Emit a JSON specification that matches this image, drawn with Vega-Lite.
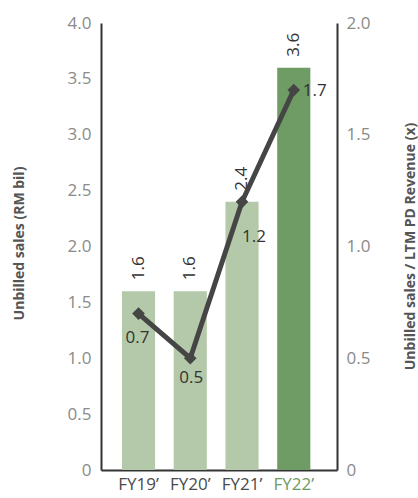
{
  "$schema": "https://vega.github.io/schema/vega-lite/v6.json",
  "width": 236,
  "height": 447,
  "autosize": {"type": "none"},
  "padding": {"left": 101, "top": 23, "right": 81, "bottom": 28},
  "background": "white",
  "config": {
    "view": {"stroke": null},
    "font": "Open Sans",
    "axis": {"domainColor": "#333333", "domainWidth": 2, "ticks": false, "grid": false, "labelFont": "Open Sans", "titleFont": "Open Sans"}
  },
  "data": {"values": [
    {"year": "FY19’", "sales": 1.6, "ratio": 0.7},
    {"year": "FY20’", "sales": 1.6, "ratio": 0.5},
    {"year": "FY21’", "sales": 2.4, "ratio": 1.2},
    {"year": "FY22’", "sales": 3.6, "ratio": 1.7}
  ]},
  "encoding": {
    "x": {
      "field": "year", "type": "nominal", "sort": null,
      "scale": {"paddingInner": 0.36, "paddingOuter": 0.46, "align": 0.44},
      "axis": {
        "title": null, "labelAngle": 0, "labelFontSize": 17, "labelPadding": 6,
        "labelColor": {"condition": {"test": "datum.value == 'FY22’'", "value": "#6e9a63"}, "value": "#4a4a4a"}
      }
    }
  },
  "layer": [
    {
      "encoding": {
        "y": {
          "field": "sales", "type": "quantitative",
          "scale": {"domain": [0, 4]},
          "axis": {
            "orient": "left", "values": [0, 0.5, 1, 1.5, 2, 2.5, 3, 3.5, 4],
            "labelExpr": "datum.value == 0 ? '0' : format(datum.value, '.1f')",
            "labelFontSize": 17, "labelColor": "#8a8a8a", "labelPadding": 10,
            "title": "Unbilled sales (RM bil)", "titleFontSize": 14, "titleFontWeight": "bold", "titleColor": "#555555",
            "titleAngle": 270, "titleX": -82, "titleY": 220, "titleAlign": "center", "titleBaseline": "middle"
          }
        }
      },
      "layer": [
        {
          "mark": {"type": "bar"},
          "encoding": {
            "color": {"condition": {"test": "datum.year == 'FY22’'", "value": "#6f9b64"}, "value": "#b4c9a9"}
          }
        },
        {
          "mark": {"type": "text", "angle": 270, "align": "left", "baseline": "middle", "dx": 11, "fontSize": 17, "color": "#333333"},
          "encoding": {"text": {"field": "sales", "type": "quantitative", "format": ".1f"}}
        }
      ]
    },
    {
      "encoding": {
        "y": {
          "field": "ratio", "type": "quantitative",
          "scale": {"domain": [0, 2]},
          "axis": {
            "orient": "right", "values": [0, 0.5, 1, 1.5, 2],
            "labelExpr": "datum.value == 0 ? '0' : format(datum.value, '.1f')",
            "labelFontSize": 17, "labelColor": "#8a8a8a", "labelPadding": 9,
            "title": "Unbilled sales / LTM PD Revenue (x)", "titleFontSize": 14, "titleFontWeight": "bold", "titleColor": "#555555",
            "titleAngle": 270, "titleX": 73, "titleY": 223, "titleAlign": "center", "titleBaseline": "middle"
          }
        }
      },
      "layer": [
        {"mark": {"type": "line", "color": "#454545", "strokeWidth": 5}, "encoding": {}},
        {"mark": {"type": "point", "shape": "diamond", "filled": true, "color": "#454545", "size": 160, "opacity": 1}, "encoding": {}},
        {
          "transform": [{"filter": "datum.year == 'FY19’'"}],
          "mark": {"type": "text", "align": "center", "baseline": "middle", "dy": 24, "dx": -1, "fontSize": 17, "color": "#333333"},
          "encoding": {"text": {"field": "ratio", "type": "quantitative", "format": ".1f"}}
        },
        {
          "transform": [{"filter": "datum.year == 'FY20’'"}],
          "mark": {"type": "text", "align": "center", "baseline": "middle", "dy": 20, "dx": 1, "fontSize": 17, "color": "#333333"},
          "encoding": {"text": {"field": "ratio", "type": "quantitative", "format": ".1f"}}
        },
        {
          "transform": [{"filter": "datum.year == 'FY21’'"}],
          "mark": {"type": "text", "align": "center", "baseline": "middle", "dy": 35, "dx": 12, "fontSize": 17, "color": "#333333"},
          "encoding": {"text": {"field": "ratio", "type": "quantitative", "format": ".1f"}}
        },
        {
          "transform": [{"filter": "datum.year == 'FY22’'"}],
          "mark": {"type": "text", "align": "left", "baseline": "middle", "dy": 1, "dx": 9, "fontSize": 17, "color": "#333333"},
          "encoding": {"text": {"field": "ratio", "type": "quantitative", "format": ".1f"}}
        }
      ]
    }
  ],
  "resolve": {"scale": {"y": "independent"}}
}
